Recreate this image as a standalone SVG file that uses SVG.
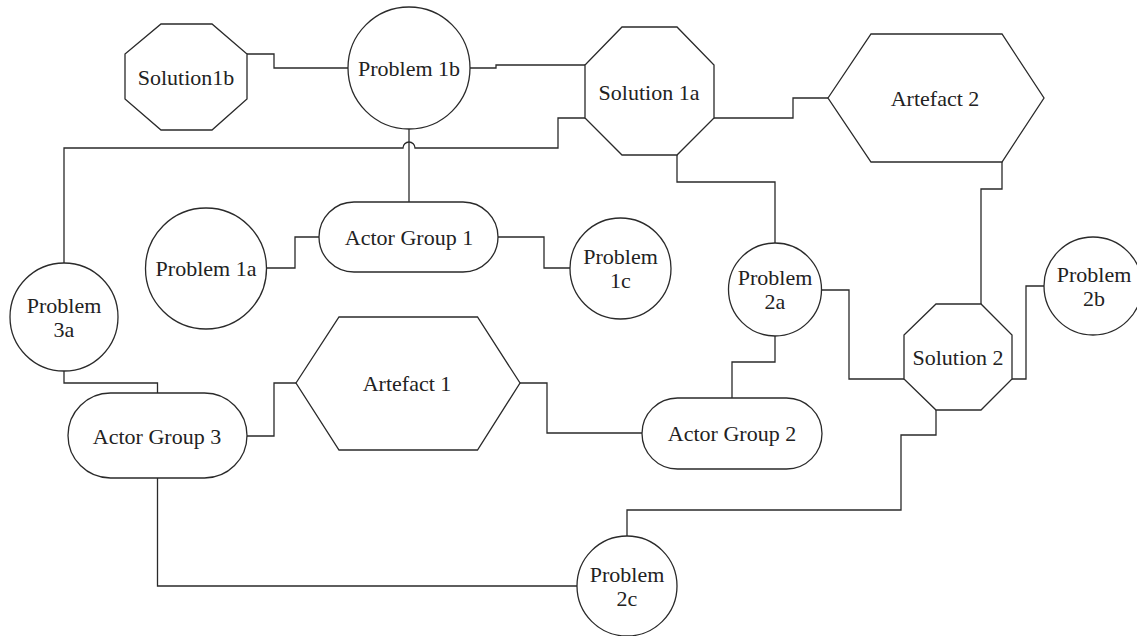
<svg xmlns="http://www.w3.org/2000/svg" width="1137" height="636" viewBox="0 0 1137 636">
<style>
.n{fill:#fff;stroke:#2a2a2a;stroke-width:1.3}
.c{fill:none;stroke:#2a2a2a;stroke-width:1.3}
text{font-family:"Liberation Serif","Times New Roman",serif;font-size:22px;fill:#222;text-anchor:middle;dominant-baseline:central}
</style>
<rect width="1137" height="636" fill="#fff"/>
<g id="connectors">
<path class="c" d="M247,54 H274 V68 H348"/>
<path class="c" d="M470,68 H496 V65 H585"/>
<path class="c" d="M64,263 V148 H403 A6,6 0 0 1 415,148 H558 V118 H585"/>
<path class="c" d="M409,129 V202"/>
<path class="c" d="M267,268 H295 V237 H319"/>
<path class="c" d="M498,237 H544 V268 H570"/>
<path class="c" d="M714,118 H793 V98 H828"/>
<path class="c" d="M677,155 V182 H775 V243"/>
<path class="c" d="M1002,162 V189 H981 V304"/>
<path class="c" d="M822,290 H849 V379 H904"/>
<path class="c" d="M1044,286 H1026 V379 H1012"/>
<path class="c" d="M936,410 V435 H901 V510 H627 V536"/>
<path class="c" d="M775,336 V362 H732 V398"/>
<path class="c" d="M64,371 V383 H157.5 V393"/>
<path class="c" d="M247,436 H274 V383 H296"/>
<path class="c" d="M520,383 H547 V433 H642"/>
<path class="c" d="M157.5,478 V586 H577"/>
</g>
<g id="solution1b"><polygon class="n" points="161,24 212,24 247,54 247,99 212,130 161,130 125,99 125,54"/><text x="186" y="77">Solution1b</text></g>
<g id="problem1b"><circle class="n" cx="409" cy="68" r="61"/><text x="409" y="68">Problem 1b</text></g>
<g id="solution1a"><polygon class="n" points="622,27 677,27 714,65 714,118 677,155 622,155 585,118 585,65"/><text x="649" y="92">Solution 1a</text></g>
<g id="artefact2"><polygon class="n" points="828,98 871,34 1002,34 1044,98 1002,162 871,162"/><text x="935" y="98">Artefact 2</text></g>
<g id="actorgroup1"><rect class="n" x="319" y="202" width="179" height="70" rx="35" ry="35"/><text x="409" y="237">Actor Group 1</text></g>
<g id="problem1a"><circle class="n" cx="206" cy="268.5" r="60.5"/><text x="206" y="268">Problem 1a</text></g>
<g id="problem1c"><circle class="n" cx="620.5" cy="268.5" r="50.5"/><text x="620.5" y="256.5">Problem</text><text x="620.5" y="280.5">1c</text></g>
<g id="problem2a"><circle class="n" cx="775" cy="289.5" r="46.5"/><text x="775" y="277.5">Problem</text><text x="775" y="301.5">2a</text></g>
<g id="problem2b"><circle class="n" cx="1093" cy="286" r="49"/><text x="1094" y="274">Problem</text><text x="1094" y="298">2b</text></g>
<g id="problem3a"><circle class="n" cx="64" cy="317" r="54"/><text x="64" y="305">Problem</text><text x="64" y="329">3a</text></g>
<g id="solution2"><polygon class="n" points="936,304 981,304 1012,335 1012,379 981,410 936,410 904,379 904,335"/><text x="958" y="357">Solution 2</text></g>
<g id="artefact1"><polygon class="n" points="296,383 339,317 477.5,317 520,383 477.5,450 339,450"/><text x="407" y="383">Artefact 1</text></g>
<g id="actorgroup3"><rect class="n" x="68" y="393" width="179" height="85" rx="42.5" ry="42.5"/><text x="157" y="436">Actor Group 3</text></g>
<g id="actorgroup2"><rect class="n" x="642" y="398" width="180" height="71" rx="35.5" ry="35.5"/><text x="732" y="433">Actor Group 2</text></g>
<g id="problem2c"><circle class="n" cx="627" cy="586" r="50"/><text x="627" y="574">Problem</text><text x="627" y="598">2c</text></g>
</svg>
